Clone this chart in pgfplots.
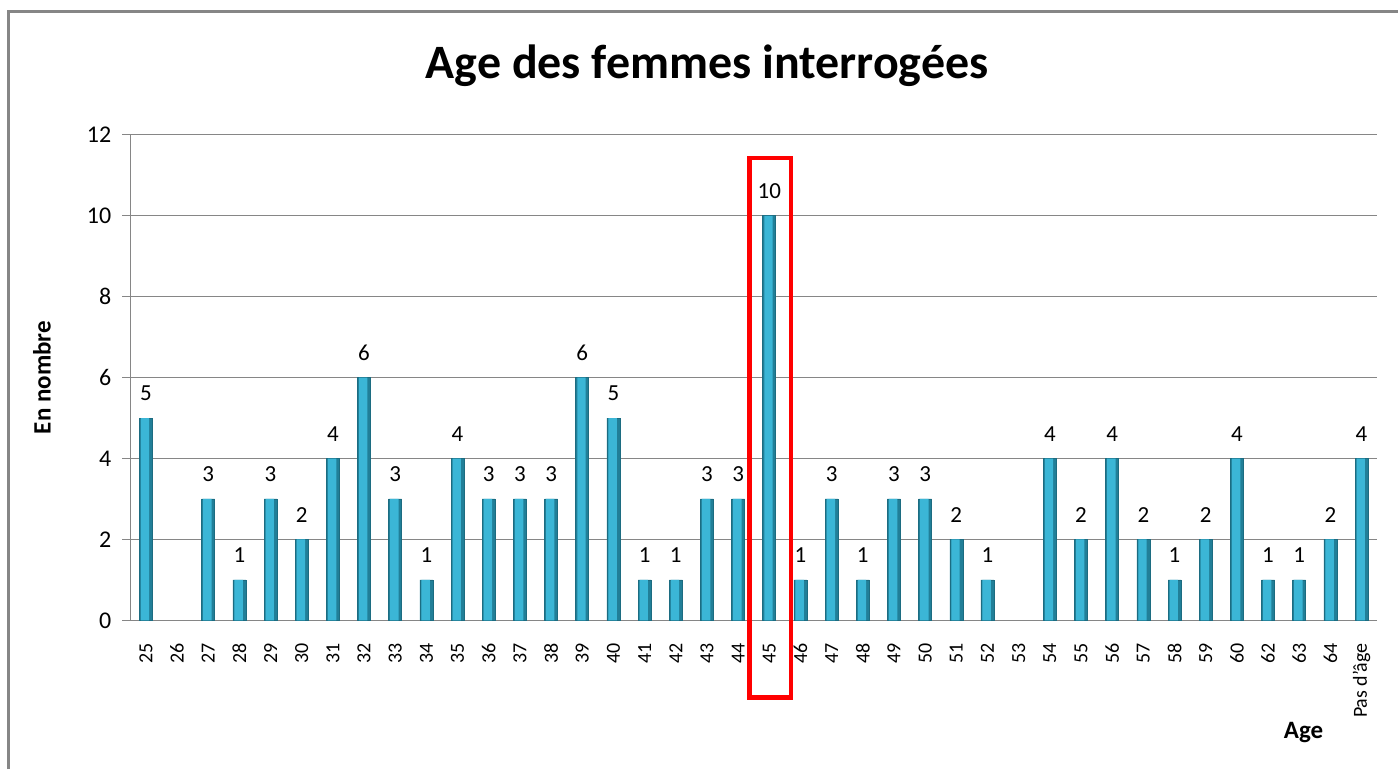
\documentclass[border=0pt]{standalone}
\usepackage{pgfplots}
\usepackage{pgfplotstable}
\pgfplotsset{compat=1.18}
\usepackage{fontspec}
\setmainfont{Carlito}
\definecolor{barMid}{HTML}{3BB6D6}
\definecolor{barEdge}{HTML}{217F98}
\definecolor{gridGray}{HTML}{868686}

% index (0 = 25 ... 39 = Pas d'age), count; 26 and 53 are empty
\pgfplotstableread{
x  y
0  5
2  3
3  1
4  3
5  2
6  4
7  6
8  3
9  1
10 4
11 3
12 3
13 3
14 6
15 5
16 1
17 1
18 3
19 3
20 10
21 1
22 3
23 1
24 3
25 3
26 2
27 1
29 4
30 2
31 4
32 2
33 1
34 2
35 4
36 1
37 1
38 2
39 4
}\ages

\begin{document}
\begin{tikzpicture}
% page = 1399 x 770 px at 0.5pt per px, y counted from the bottom
\path (0pt,0pt) rectangle (699.5pt,385pt);
\draw[gridGray, line width=1.5pt] (4.5pt,0pt) -- (4.5pt,379pt) -- (699.5pt,379pt);

\node[font=\bfseries\fontsize{24}{27}\selectfont] at (354pt,352pt) {Age des femmes interrogées};
\node[font=\bfseries\fontsize{12.5}{14}\selectfont, rotate=90] at (21pt,196pt) {En nombre};
\node[font=\bfseries\fontsize{12.5}{14}\selectfont] at (652.5pt,18.5pt) {Age};

\begin{axis}[
    at={(65.2pt,74.5pt)}, anchor=south west,
    scale only axis,
    width=624.1pt, height=243pt,
    xmin=-0.5, xmax=39.5,
    ymin=0, ymax=12,
    ytick={0,2,...,12},
    xtick={0,...,39},
    xticklabels={25,26,27,28,29,30,31,32,33,34,35,36,37,38,39,40,41,42,43,44,45,46,47,48,49,50,51,52,53,54,55,56,57,58,59,60,62,63,64,Pas d'âge},
    axis x line*=bottom, axis y line*=left,
    axis line style={draw=gridGray, line width=0.5pt, -},
    ymajorgrids,
    grid style={draw=gridGray, line width=0.5pt},
    tick align=outside,
    xtick style={draw=none},
    ytick style={draw=gridGray, line width=0.5pt},
    major tick length=4pt,
    /pgf/number format/assume math mode=true,
    yticklabel style={font=\fontsize{12}{14}\selectfont, xshift=-2pt},
    xticklabel style={font=\fontsize{10}{11}\selectfont, yshift=-4pt, rotate=90, anchor=east},
    clip=false,
    ybar=0pt,
]
\addplot[bar width=6.5pt, bar shift=0pt, fill=barEdge, draw=barEdge!85!black, line width=0.3pt,
    nodes near coords,
    every node near coord/.append style={font=\fontsize{11.5}{13}\selectfont, yshift=5pt, text=black}]
  table[x=x, y=y] {\ages};
\addplot[bar width=4.2pt, bar shift=-0.4pt, fill=barMid, draw=none]
  table[x=x, y=y] {\ages};
\draw[red, line width=2.3pt] (axis cs:19.36,-1.9) rectangle (axis cs:20.7,11.43);
\end{axis}
\end{tikzpicture}
\end{document}
